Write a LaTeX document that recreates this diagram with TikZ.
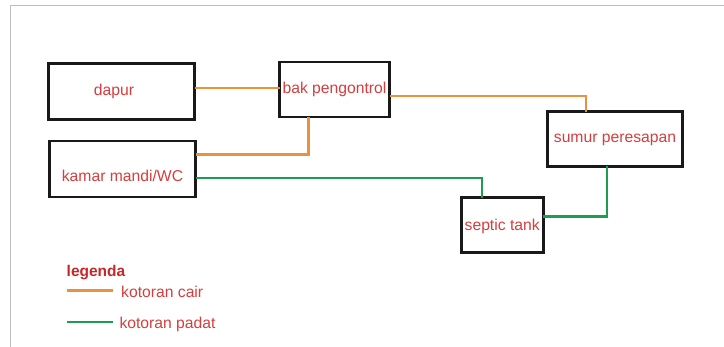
\documentclass[tikz,border=0pt]{standalone}
\usepackage{fontspec}
\setmainfont{Liberation Sans}
\definecolor{txtred}{RGB}{214,62,62}
\definecolor{legred}{RGB}{196,40,40}
\definecolor{cairc}{RGB}{234,146,58}
\definecolor{padatc}{RGB}{30,156,82}
\definecolor{framec}{RGB}{190,190,190}
\begin{document}
\begin{tikzpicture}[x=1pt,y=-1pt,
  box/.style={draw=black!90,line width=2.6pt,minimum width=#1,inner sep=0pt,outer sep=0pt},
  lbl/.style={text=txtred,font=\fontsize{15.7}{18}\selectfont,inner sep=0pt},
  cair/.style={draw=cairc,line width=2.4pt},
  padat/.style={draw=padatc,line width=2.4pt}]
\useasboundingbox (0,0) rectangle (724,347);
\fill[white] (0,0) rectangle (724,347);
% frame
\coordinate (ftl) at (10.5,5.5);
\coordinate (ftr) at (724,5.5);
\coordinate (fbl) at (10.5,347);
\draw[framec,line width=1.2pt] (ftr) -- (ftl) -- (fbl);
% boxes
\node[box=146pt,minimum height=56pt] (dapur) at (121.5,91.4) {};
\node[box=146pt,minimum height=56pt] (kamar) at (122.5,169.2) {};
\node[box=110pt,minimum height=55pt] (bak) at (334.5,89.7) {};
\node[box=134.5pt,minimum height=54.5pt] (sumur) at (615,139) {};
\node[box=82pt,minimum height=54.5pt] (septic) at (502.2,225) {};
% labels
\node[lbl] (tdapur) at ([xshift=-7.5pt]dapur.center) {dapur};
\node[lbl] (tkamar) at ([yshift=-6.5pt]kamar.center) {kamar mandi/WC};
\node[lbl] (tbak) at (bak.center) {bak pengontrol};
\node[lbl] (tsumur) at ([yshift=-1pt]sumur.center) {sumur peresapan};
\node[lbl] (tseptic) at ([yshift=-1pt]septic.center) {septic tank};
% connectors
\draw[cair] ([yshift=1.4pt]bak.west) -- ([yshift=1.4pt]bak.west -| dapur.east);
\draw[cair] ([xshift=-26.2pt]bak.south) |- ([yshift=-13.3pt]kamar.north east);
\draw[cair] ([yshift=-6.3pt]bak.east) -| ([xshift=-29pt]sumur.north);
\draw[padat] ([yshift=-8.8pt]kamar.east) -| ([xshift=-20pt]septic.north);
\draw[padat] ([yshift=8.3pt]septic.east) -| ([xshift=-8.3pt]sumur.south);
% legend
\node[anchor=west,inner sep=0pt,text=legred,font=\bfseries\fontsize{15.5}{18}\selectfont] (legenda) at (66.5,272.5) {legenda};
\coordinate (lc1) at (66.7,290.7);
\coordinate (lc2) at (113.3,290.7);
\coordinate (lp1) at (66.7,322.3);
\coordinate (lp2) at (113.3,322.3);
\draw[cair] (lc1) -- (lc2);
\draw[padat] (lp1) -- (lp2);
\node[lbl,anchor=west] (lcair) at (121,291.5) {kotoran cair};
\node[lbl,anchor=west] (lpadat) at (119.3,324) {kotoran padat};
\end{tikzpicture}
\end{document}
